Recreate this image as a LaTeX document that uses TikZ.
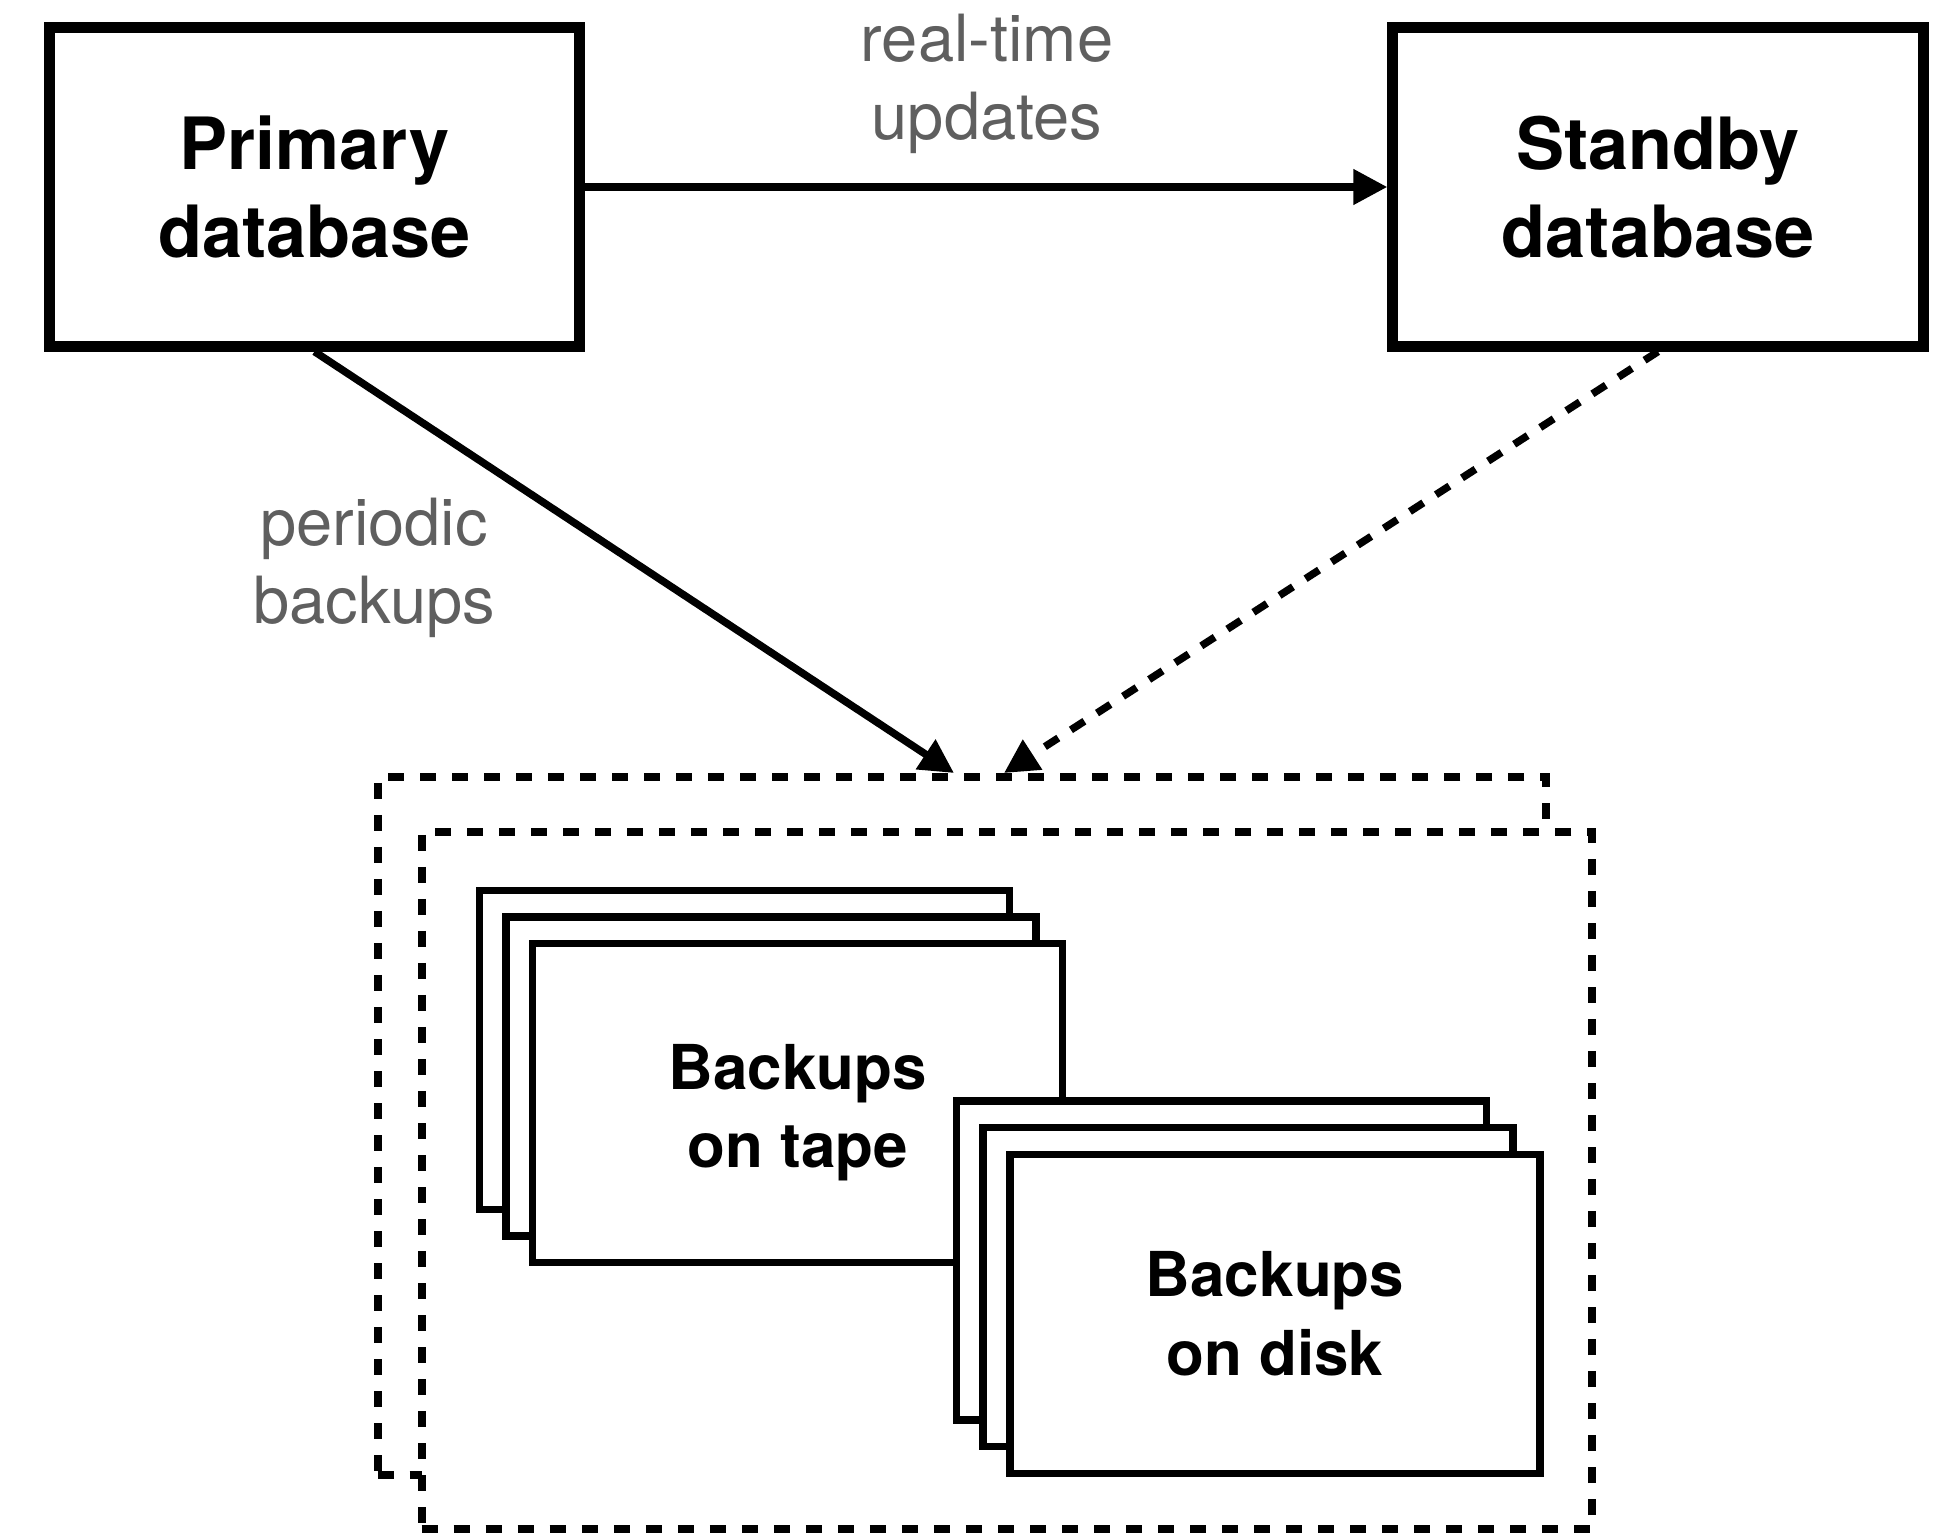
\documentclass[tikz,border=0pt]{standalone}
\usepackage{fontspec}
\setmainfont{TeX Gyre Heros}
\usetikzlibrary{arrows.meta}
\definecolor{labelgray}{HTML}{5F5F5F}
\tikzset{
  dbbox/.style={draw=black, line width=0.11cm, fill=white, inner sep=0pt,
    minimum width=5.3cm, minimum height=3.18cm, align=center,
    font=\bfseries\fontsize{20.5}{25.2}\selectfont},
  stackbox/.style={draw=black, line width=0.075cm, fill=white, inner sep=0pt,
    minimum width=5.3cm, minimum height=3.19cm, align=center,
    font=\bfseries\fontsize{17.6}{22.4}\selectfont},
  dashbox/.style={draw=black, line width=0.08cm, fill=white, inner sep=0pt,
    dash pattern=on 0.16cm off 0.16cm},
  lbl/.style={text=labelgray, align=center, inner sep=0pt,
    font=\fontsize{18.5}{22.2}\selectfont},
  conn/.style={line width=0.075cm, -{Triangle[length=0.34cm,width=0.34cm]}},
  dconn/.style={conn, dash pattern=on 0.16cm off 0.15cm}
}
\begin{document}
\begin{tikzpicture}[x=0.01cm,y=-0.01cm]
\useasboundingbox (0,0) rectangle (1935,1533);
% database boxes
\node[dbbox] (primary) at (314.5,187) {Primary\\database};
\node[dbbox] (standby) at (1658,187) {Standby\\database};
% backup containers
\node[dashbox, minimum width=11.68cm, minimum height=6.98cm] (back) at (962,1126) {};
\node[dashbox, minimum width=11.70cm, minimum height=6.97cm] (front) at (1007,1180.5) {};
% tape stack
\node[stackbox] (tape1) at (744.5,1050) {};
\node[stackbox] (tape2) at (771,1076.5) {};
\node[stackbox, text height=40.8pt] (tape3) at (797.5,1103) {Backups\\on tape};
% disk stack
\node[stackbox] (disk1) at (1221.5,1260.5) {};
\node[stackbox] (disk2) at (1248,1287) {};
\node[stackbox] (disk3) at (1275,1314) {Backups\\on disk};
% arrow targets on top of the back container
\coordinate (tipA) at (954,773);
\coordinate (tipB) at (1004,773);
% connectors
\draw[conn] (primary.east) -- (standby.west);
\draw[conn] (primary.south) -- (tipA);
\draw[dconn] (standby.south) -- (tipB);
% labels
\node[lbl] (rt) at (987,84) {real-time\\updates};
\node[lbl] (pb) at (374,568) {periodic\\backups};
\end{tikzpicture}
\end{document}
